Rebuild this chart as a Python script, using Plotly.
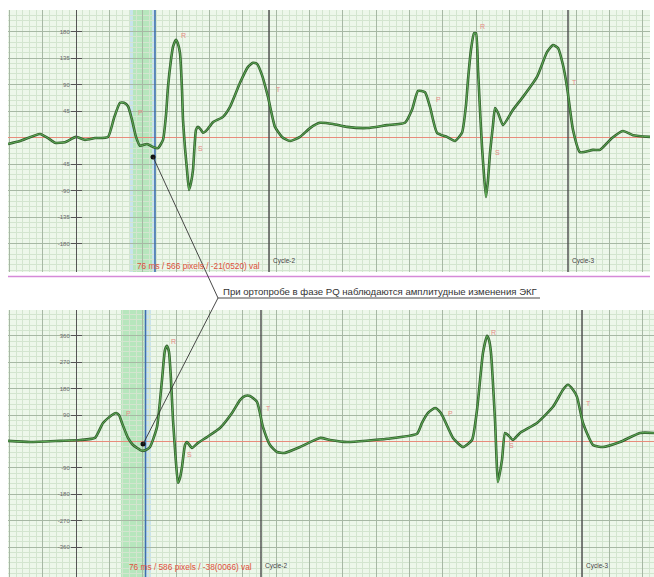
import plotly.graph_objects as go

W, H = 654, 577

# ---------------- data ----------------
# upper record (sample index, amplitude)
t_top = [8, 20, 40, 48, 55, 65, 76, 85, 95, 108, 114, 120, 124, 128, 132, 136, 140, 147, 153, 158,
         163, 166, 168, 171, 173, 176, 178, 180, 182, 183, 185, 187, 189, 191, 193, 196, 198, 201, 203, 207,
         213, 223, 230, 240, 248, 253, 257, 262, 268, 275, 282, 290, 300, 310, 320, 333, 347, 367, 387, 405,
         412, 418, 425, 430, 437, 447, 455, 462, 466, 468, 471, 474, 476, 478, 480, 482, 484, 486, 488, 490,
         493, 495, 498, 503, 513, 523, 537, 547, 553, 558, 563, 567, 573, 580, 593, 600, 612, 623, 633, 650]
v_top = [-11, -6, 6, -1, -9, -8, 1, -4, -1, 1, 33, 59, 59, 53, 30, 1, -14, -11, -16, -18,
         -4, 38, 86, 132, 154, 166, 159, 143, 81, 30, -18, -55, -89, -77, -55, 13, 18, 13, 8, 13,
         26, 35, 52, 93, 120, 127, 125, 106, 69, 18, 1, -6, 1, 16, 25, 23, 18, 16, 21, 25,
         47, 79, 77, 52, 8, 1, -6, 8, 55, 98, 149, 177, 177, 115, 47, -16, -64, -101, -72, -26,
         21, 50, 42, 21, 47, 69, 103, 145, 157, 152, 123, 86, 13, -25, -21, -21, -1, 11, 4, 1]

# lower record
t_bot = [8, 30, 60, 80, 95, 103, 112, 116, 119, 122, 128, 133, 137, 142, 146, 150, 157, 162, 165, 167,
         169, 171, 173, 176, 178, 180, 182, 185, 187, 192, 198, 207, 220, 232, 240, 245, 250, 257, 263, 270,
         277, 285, 300, 320, 330, 347, 387, 417, 422, 428, 435, 440, 443, 453, 463, 472, 477, 483, 487, 489,
         491, 495, 498, 502, 505, 508, 513, 520, 537, 553, 563, 568, 573, 577, 583, 593, 603, 620, 640, 654]
v_bot = [2, -2, 2, 5, 12, 63, 90, 97, 90, 63, 12, -12, -22, -32, -29, -19, 49, 210, 312, 326,
         305, 210, 73, -73, -141, -124, -87, -12, -2, -22, -5, 15, 46, 97, 141, 155, 155, 135, 49, -12,
         -36, -39, -19, 12, 5, -2, 9, 26, 63, 97, 114, 101, 84, 12, -19, 5, 107, 302, 360, 346,
         302, 73, -138, -63, 29, 22, 5, 29, 63, 118, 176, 193, 176, 152, 63, -12, -19, -2, 29, 29]

top_ticks = [180, 135, 90, 45, -45, -90, -135, -180]
top_tick_labels = ["180", "135", "90", "45", "-45", "-90", "-135", "-180"]
bot_ticks = [360, 270, 180, 90, -90, -180, -270, -360]
bot_tick_labels = ["360", "270", "180", "90", "-90", "-180", "-270", "-360"]

# cycle boundaries and measurement cursors
top_cycles = [269, 568]
top_cycle_names = ["Cycle-2", "Cycle-3"]
bot_cycles = [261, 582]
bot_cycle_names = ["Cycle-2", "Cycle-3"]
top_cursor = 155
bot_cursor = 145.5
top_marker = (153, -33)
bot_marker = (143, -9)
top_measure = "76 ms / 566 pixels / -21(0520) val"
bot_measure = "76 ms / 586 pixels / -38(0066) val"
callout_text = "При ортопробе в фазе PQ наблюдаются амплитудные изменения ЭКГ"

top_peaks = [("P", 140, 42), ("R", 183, 174), ("S", 200, -18), ("T", 278, 82),
             ("P", 438, 64), ("R", 482, 188), ("S", 497, -26), ("T", 574, 94)]
bot_peaks = [("P", 128, 94), ("R", 173, 339), ("S", 189, -46), ("T", 268, 114),
             ("P", 450, 94), ("R", 493, 373), ("S", 511, -15), ("T", 588, 131)]

# ---------------- layout helpers ----------------
def px(x):
    return x / W

def py(y):
    return 1 - y / H

TOP_DOM = [py(272), py(10)]
BOT_DOM = [0.0, py(310)]
TOP_RANGE = [-228.4, 216.5]
BOT_RANGE = [-462.0, 448.0]
TOP_X = [8, 650]
BOT_X = [8, 654]

def to_paper(x, v, xr, xdom, yr, ydom):
    xp = xdom[0] + (x - xr[0]) / (xr[1] - xr[0]) * (xdom[1] - xdom[0])
    yp = ydom[0] + (v - yr[0]) / (yr[1] - yr[0]) * (ydom[1] - ydom[0])
    return xp, yp

FONT = "Liberation Sans, Arial"
BG = "#edf7ea"
MINOR = "#d3e5cf"
MAJOR = "#a7b8a4"
TRACE_DARK = "#33602e"
TRACE_LIGHT = "#63b65a"
ZERO = "#e88c7c"
PEAK = "#e58b86"

fig = go.Figure()

# vertical cycle boundaries and cursors, drawn as traces beneath the ECG
def vline(x, rng, xa, ya, color, width):
    fig.add_trace(go.Scatter(x=[x, x], y=[rng[0], rng[1]], xaxis=xa, yaxis=ya, mode="lines",
                             line=dict(color=color, width=width), hoverinfo="skip", showlegend=False))

for c in top_cycles:
    vline(c, TOP_RANGE, "x", "y", "#4a4a4a", 1.4)
for c in bot_cycles:
    vline(c, BOT_RANGE, "x2", "y2", "#4a4a4a", 1.4)
vline(top_cursor, TOP_RANGE, "x", "y", "#3d6fae", 1.6)
vline(bot_cursor, BOT_RANGE, "x2", "y2", "#3d6fae", 1.6)

for xs, ys, xa, ya in [(t_top, v_top, "x", "y"), (t_bot, v_bot, "x2", "y2")]:
    fig.add_trace(go.Scatter(x=xs, y=ys, xaxis=xa, yaxis=ya, mode="lines",
                             line=dict(color=TRACE_DARK, width=2.6, shape="spline", smoothing=0.5),
                             hoverinfo="skip", showlegend=False))
    fig.add_trace(go.Scatter(x=xs, y=ys, xaxis=xa, yaxis=ya, mode="lines",
                             line=dict(color=TRACE_LIGHT, width=0.9, shape="spline", smoothing=0.5),
                             hoverinfo="skip", showlegend=False))

fig.add_trace(go.Scatter(x=[top_marker[0]], y=[top_marker[1]], xaxis="x", yaxis="y", mode="markers",
                         marker=dict(color="#111", size=5), showlegend=False, hoverinfo="skip"))
fig.add_trace(go.Scatter(x=[bot_marker[0]], y=[bot_marker[1]], xaxis="x2", yaxis="y2", mode="markers",
                         marker=dict(color="#111", size=5), showlegend=False, hoverinfo="skip"))
# invisible traces to carry the right-hand tick axes
fig.add_trace(go.Scatter(x=[None], y=[None], xaxis="x", yaxis="y3", showlegend=False))
fig.add_trace(go.Scatter(x=[None], y=[None], xaxis="x2", yaxis="y4", showlegend=False))

def xaxis_cfg(dom, rng, anchor):
    return dict(domain=dom, range=rng, anchor=anchor, showticklabels=False, ticks="",
                showgrid=True, gridcolor=MAJOR, gridwidth=1, tick0=76, dtick=100 / 3,
                zeroline=False, showline=False, fixedrange=True,
                minor=dict(tick0=76, dtick=20 / 3, showgrid=True, gridcolor=MINOR, gridwidth=1))

def yaxis_cfg(dom, rng, vals, labels, minor_step):
    return dict(domain=dom, range=rng, anchor="free", position=px(76),
                tickmode="array", tickvals=vals, ticktext=labels,
                ticks="outside", ticklen=5, tickcolor="#555", tickwidth=1,
                tickfont=dict(size=6, color="#6a6a6a", family=FONT),
                showline=True, linecolor="#555", linewidth=1,
                showgrid=True, gridcolor=MAJOR, gridwidth=1,
                zeroline=True, zerolinecolor=ZERO, zerolinewidth=1.6,
                minor=dict(tick0=0, dtick=minor_step, showgrid=True, gridcolor=MINOR, gridwidth=1),
                fixedrange=True)

def ytick_right(over, rng, vals):
    return dict(overlaying=over, range=rng, anchor="free", position=px(76), side="right",
                tickmode="array", tickvals=vals, showticklabels=False,
                ticks="outside", ticklen=5, tickcolor="#555", tickwidth=1,
                showline=False, showgrid=False, zeroline=False, fixedrange=True)

shapes = [
    dict(type="rect", xref="x", yref="y domain", x0=129, x1=133, y0=0, y1=1,
         fillcolor="#c9e3ec", line_width=0, layer="below"),
    dict(type="rect", xref="x", yref="y domain", x0=133, x1=152, y0=0, y1=1,
         fillcolor="#b7e6bd", line_width=0, layer="below"),
    dict(type="rect", xref="x", yref="y domain", x0=152, x1=top_cursor, y0=0, y1=1,
         fillcolor="#c9e3ec", line_width=0, layer="below"),
    dict(type="rect", xref="x2", yref="y2 domain", x0=121, x1=bot_cursor - 1, y0=0, y1=1,
         fillcolor="#b7e6bd", line_width=0, layer="below"),
    dict(type="rect", xref="x2", yref="y2 domain", x0=bot_cursor, x1=151, y0=0, y1=1,
         fillcolor="#c9e3ec", line_width=0, layer="below"),
]
# separator
shapes.append(dict(type="line", xref="paper", yref="paper", x0=px(8), x1=px(650), y0=py(276.5), y1=py(276.5),
                   line=dict(color="#d58ad8", width=1.5)))
# callout
tx, ty = to_paper(top_marker[0], top_marker[1], TOP_X, [px(8), px(650)], TOP_RANGE, TOP_DOM)
bx, by = to_paper(bot_marker[0], bot_marker[1], BOT_X, [px(8), 1.0], BOT_RANGE, BOT_DOM)
jx, jy = px(218), py(298)
shapes += [
    dict(type="line", xref="paper", yref="paper", x0=tx, y0=ty, x1=jx, y1=jy, line=dict(color="#333", width=0.9)),
    dict(type="line", xref="paper", yref="paper", x0=bx, y0=by, x1=jx, y1=jy, line=dict(color="#333", width=0.9)),
    dict(type="line", xref="paper", yref="paper", x0=jx, y0=jy, x1=px(540), y1=jy, line=dict(color="#333", width=0.9)),
]

annotations = [
    dict(xref="paper", yref="paper", x=px(221), y=py(291.5), xanchor="left", yanchor="middle",
         text=callout_text, showarrow=False, font=dict(size=9.6, color="#333", family=FONT)),
    dict(xref="paper", yref="paper", x=px(135), y=py(266), xanchor="left", yanchor="middle",
         text=top_measure, showarrow=False, font=dict(size=8.3, color="#e0503c", family=FONT)),
    dict(xref="paper", yref="paper", x=px(127), y=py(567), xanchor="left", yanchor="middle",
         text=bot_measure, showarrow=False, font=dict(size=8.3, color="#e0503c", family=FONT)),
]
for c, name in zip(top_cycles, top_cycle_names):
    annotations.append(dict(xref="x", yref="paper", x=c + 2, y=py(261), xanchor="left", yanchor="middle",
                            text=name, showarrow=False, font=dict(size=6.5, color="#444", family=FONT)))
for c, name in zip(bot_cycles, bot_cycle_names):
    annotations.append(dict(xref="x2", yref="paper", x=c + 2, y=py(566), xanchor="left", yanchor="middle",
                            text=name, showarrow=False, font=dict(size=6.5, color="#444", family=FONT)))
for lab, x, v in top_peaks:
    annotations.append(dict(xref="x", yref="y", x=x, y=v, text=lab, showarrow=False,
                            font=dict(size=7, color=PEAK, family=FONT)))
for lab, x, v in bot_peaks:
    annotations.append(dict(xref="x2", yref="y2", x=x, y=v, text=lab, showarrow=False,
                            font=dict(size=7, color=PEAK, family=FONT)))

fig.update_layout(
    width=W, height=H, margin=dict(l=0, r=0, t=0, b=0),
    paper_bgcolor="white", plot_bgcolor=BG, showlegend=False,
    xaxis=xaxis_cfg([px(8), px(650)], TOP_X, "y"),
    xaxis2=xaxis_cfg([px(8), 1.0], BOT_X, "y2"),
    yaxis=yaxis_cfg(TOP_DOM, TOP_RANGE, top_ticks, top_tick_labels, 9),
    yaxis2=yaxis_cfg(BOT_DOM, BOT_RANGE, bot_ticks, bot_tick_labels, 18),
    yaxis3=ytick_right("y", TOP_RANGE, top_ticks),
    yaxis4=ytick_right("y2", BOT_RANGE, bot_ticks),
    shapes=shapes, annotations=annotations,
)

fig.write_html("out.html", config={"displayModeBar": False, "staticPlot": True},
               post_script="document.body.style.margin='0';document.body.style.overflow='hidden';")
